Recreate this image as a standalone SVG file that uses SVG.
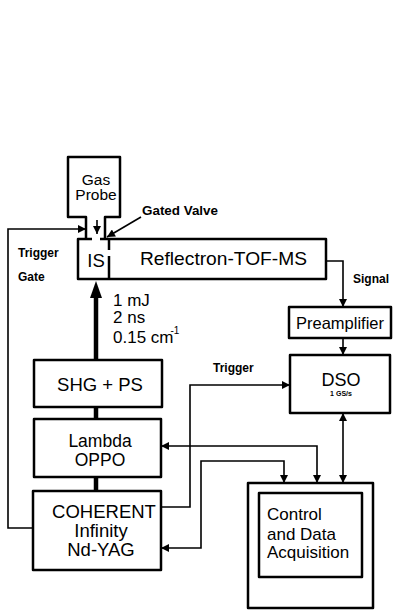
<svg xmlns="http://www.w3.org/2000/svg" width="394" height="611" viewBox="0 0 394 611">
<style>
.box{fill:none;stroke:#000;stroke-width:2.5;stroke-linejoin:round}
.ln{fill:none;stroke:#000;stroke-width:1.6;stroke-linejoin:miter}
.thick{fill:none;stroke:#000;stroke-width:4.5}
text{font-family:"Liberation Sans",Arial,sans-serif;fill:#000}
.big{font-size:18.5px}
.mid{font-size:17px}
.lbl{font-size:12px;font-weight:bold}
</style>
<defs>
<marker id="ah" viewBox="0 0 10 10" refX="10" refY="5" markerWidth="9" markerHeight="8" markerUnits="userSpaceOnUse" orient="auto-start-reverse">
<path d="M0,0 L10,5 L0,10 Z" fill="#000"/>
</marker>
</defs>
<rect width="394" height="611" fill="#fff"/>

<g id="connectors">
<polyline class="ln" points="33,528 8,528 8,229 86,229" marker-end="url(#ah)"/>
<line class="ln" x1="97" y1="220" x2="97" y2="234" stroke-width="1.2" marker-end="url(#ah)"/>
<line class="ln" x1="141" y1="217" x2="107" y2="237" stroke-width="1.2" marker-end="url(#ah)"/>
<line class="thick" x1="96" y1="360" x2="96" y2="295"/>
<polygon points="96,281 90,298 102,298" fill="#000"/>
<line class="thick" x1="96" y1="407" x2="96" y2="419"/>
<line class="thick" x1="96" y1="477" x2="96" y2="491"/>
<polyline class="ln" points="326,261 343,261 343,307" marker-end="url(#ah)"/>
<line class="ln" x1="343" y1="338" x2="343" y2="355" marker-end="url(#ah)"/>
<polyline class="ln" points="161,507 190,507 190,385 290,385" marker-end="url(#ah)"/>
<polyline class="ln" points="161,446 317,446 317,483" marker-start="url(#ah)" marker-end="url(#ah)"/>
<polyline class="ln" points="161,548 201,548 201,461 284,461 284,483" marker-start="url(#ah)" marker-end="url(#ah)"/>
<line class="ln" x1="343" y1="413" x2="343" y2="483" marker-start="url(#ah)" marker-end="url(#ah)"/>
</g>

<g id="gas-probe">
<path class="box" d="M86,239 V217 H68 V157 H120 V217 H105 V239"/>
<text x="96" y="185" text-anchor="middle" style="font-size:15.5px">Gas</text>
<text x="96" y="200" text-anchor="middle" style="font-size:15.5px">Probe</text>
</g>

<g id="gated-valve-label">
<text class="lbl" x="142" y="215" textLength="76" lengthAdjust="spacingAndGlyphs">Gated Valve</text>
</g>

<g id="trigger-gate-label">
<text class="lbl" x="18" y="257">Trigger</text>
<text class="lbl" x="18" y="281">Gate</text>
</g>

<g id="is">
<path class="box" d="M92,239 H78 V279 H109"/>
<line class="box" x1="109" y1="239" x2="109" y2="250"/>
<line class="box" x1="109" y1="256" x2="109" y2="279"/>
<text class="big" x="96" y="267" text-anchor="middle">IS</text>
</g>

<g id="reflectron">
<path class="box" d="M100,239 H326 V279 H109"/>
<text class="big" x="140" y="265" textLength="167" lengthAdjust="spacingAndGlyphs">Reflectron-TOF-MS</text>
</g>

<g id="beam-label">
<text class="mid" x="113" y="306">1 mJ</text>
<text class="mid" x="113" y="323">2 ns</text>
<text class="mid" x="113" y="343">0.15 cm<tspan font-size="10px" dx="-3" dy="-9">-1</tspan></text>
</g>

<g id="signal-label">
<text class="lbl" x="353" y="283">Signal</text>
</g>

<g id="preamplifier">
<rect class="box" x="289" y="307" width="102" height="31"/>
<text x="340" y="329" text-anchor="middle" style="font-size:16.5px">Preamplifier</text>
</g>

<g id="dso">
<rect class="box" x="290" y="355" width="100" height="58"/>
<text x="341" y="386" text-anchor="middle" style="font-size:18px">DSO</text>
<text x="341" y="396" text-anchor="middle" style="font-size:7px;font-weight:bold">1 GS/s</text>
</g>

<g id="trigger-label">
<text class="lbl" x="213" y="372">Trigger</text>
</g>

<g id="shg">
<rect class="box" x="34" y="360" width="128" height="47"/>
<text class="big" x="100" y="391" text-anchor="middle">SHG + PS</text>
</g>

<g id="lambda">
<rect class="box" x="34" y="419" width="127" height="58"/>
<text x="100" y="447" text-anchor="middle" style="font-size:17.5px">Lambda</text>
<text x="100" y="466" text-anchor="middle" style="font-size:17.5px">OPPO</text>
</g>

<g id="coherent">
<rect class="box" x="33" y="491" width="128" height="79"/>
<text class="big" x="104" y="518" text-anchor="middle">COHERENT</text>
<text class="big" x="101" y="537" text-anchor="middle">Infinity</text>
<text class="big" x="101" y="556" text-anchor="middle">Nd-YAG</text>
</g>

<g id="control">
<rect class="box" x="248" y="483" width="125" height="125"/>
<rect class="box" x="259" y="493" width="103" height="84"/>
<text class="mid" x="267" y="520">Control</text>
<text class="mid" x="267" y="540">and Data</text>
<text class="mid" x="267" y="558">Acquisition</text>
</g>
</svg>
